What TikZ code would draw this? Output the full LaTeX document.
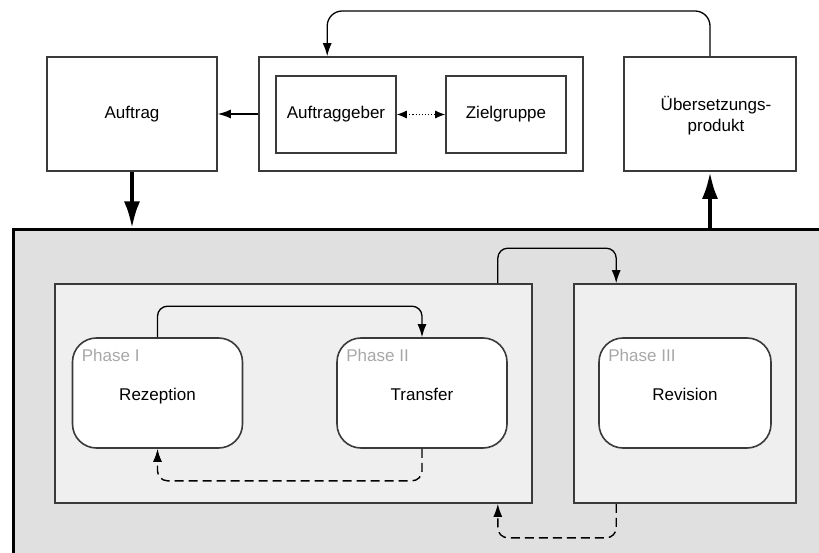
\documentclass[tikz,border=0pt]{standalone}
\usepackage{fontspec}
\setmainfont{Liberation Sans}
\usetikzlibrary{arrows.meta,calc}
\definecolor{bigfill}{HTML}{E0E0E0}
\definecolor{contfill}{HTML}{EFEFEF}
\definecolor{edge}{HTML}{3A3A3A}
\definecolor{phasegray}{HTML}{A8A8A8}
\begin{document}
\begin{tikzpicture}[x=1pt,y=-1pt,
  every node/.style={font=\fontsize{17}{21}\selectfont, inner sep=0pt},
  box/.style={draw=edge, line width=1.6pt, fill=white, rectangle},
  bigbox/.style={draw=black, line width=3pt, fill=bigfill, rectangle},
  contbox/.style={draw=edge, line width=1.6pt, fill=contfill, rectangle},
  phasebox/.style={draw=edge, line width=1.6pt, fill=white, rounded corners=24pt, minimum width=170pt, minimum height=110pt},
  conn/.style={draw=black, line width=1.3pt, -{Latex[length=13pt,width=9pt]}},
  dashconn/.style={conn, dash pattern=on 9pt off 5pt, line width=1.4pt},
  thick arrow/.style={draw=black, line width=4pt, -{Latex[length=27pt,width=16pt]}},
  phaselabel/.style={text=phasegray, anchor=base west},
  mainlabel/.style={anchor=base}
]
\useasboundingbox (0,0) rectangle (819,553);
\clip (0,0) rectangle (819,553);
\fill[white] (0,0) rectangle (819,553);

% top row
\node[box, minimum width=170pt, minimum height=114pt] (auftrag) at (132,114) {Auftrag};
\node[box, minimum width=324pt, minimum height=114pt] (group) at (421,114) {};
\node[box, minimum width=120pt, minimum height=77pt] (ag) at (336,114.5) {Auftraggeber};
\node[box, minimum width=120pt, minimum height=77pt] (zg) at (506,114.5) {Zielgruppe};
\node[box, minimum width=172pt, minimum height=114pt] (produkt) at (710,114) {};
\node[align=center] (produkttext) at (716,116) {Übersetzungs-\\produkt};

% big process box
\node[bigbox, minimum width=817pt, minimum height=340pt] (big) at (421.5,400) {};
\node[contbox, minimum width=477pt, minimum height=219pt] (c1) at (293.5,393.5) {};
\node[contbox, minimum width=222pt, minimum height=219pt] (c2) at (685,393.5) {};

\node[phasebox] (rez) at (157.5,393) {};
\node[phasebox] (tra) at (422,393) {};
\node[phasebox, minimum width=172pt] (rev) at (685,393) {};

\node[phaselabel] (p1) at ($(rez.north west)+(10,24)$) {Phase I};
\node[phaselabel] (p2) at ($(tra.north west)+(10,24)$) {Phase II};
\node[phaselabel] (p3) at ($(rev.north west)+(10,24)$) {Phase III};
\node[mainlabel] (l1) at ($(rez.center)+(0,7)$) {Rezeption};
\node[mainlabel] (l2) at ($(tra.center)+(0,7)$) {Transfer};
\node[mainlabel] (l3) at ($(rev.center)+(0,7)$) {Revision};

% connectors top
\coordinate (gt) at ([xshift=69pt]group.north west);
\coordinate (topy) at (0,11);
\draw[conn, rounded corners=15pt] (produkt.north) -- (produkt.north |- topy) -| (gt);
\draw[conn] (group.west) -- (auftrag.east);
\draw[line width=1.1pt, dotted, {Latex[length=10pt,width=8pt]}-{Latex[length=10pt,width=8pt]}] (ag.east) -- (zg.west);

% thick arrows
\draw[thick arrow] (auftrag.south) -- (auftrag.south |- big.north);
\draw[thick arrow] (big.north -| produkt.south) -- (produkt.south);

% phase connectors
\draw[conn, rounded corners=10pt] (rez.north) -- ++(0,-31) -| (tra.north);
\draw[dashconn, rounded corners=10pt] (tra.south) -- ++(0,32) -| (rez.south);

\coordinate (c1t) at ([xshift=-35pt]c1.north east);
\coordinate (c1b) at ([xshift=-35pt]c1.south east);
\coordinate (c2t) at ([xshift=43pt]c2.north west);
\coordinate (c2b) at ([xshift=43pt]c2.south west);
\draw[conn, rounded corners=10pt] (c1t) -- ++(0,-35) -| (c2t);
\draw[dashconn, rounded corners=10pt] (c2b) -- ++(0,34) -| (c1b);
\end{tikzpicture}
\end{document}
